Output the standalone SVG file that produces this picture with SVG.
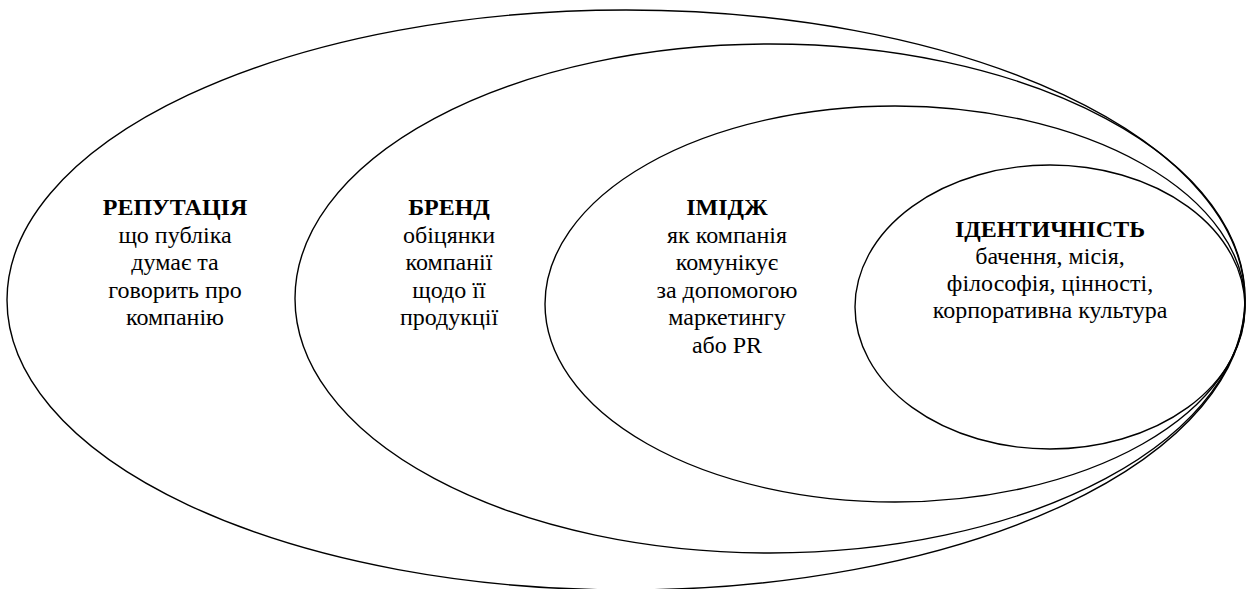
<svg xmlns="http://www.w3.org/2000/svg" width="1247" height="589" viewBox="0 0 1247 589">
<style>
.e{fill:none;stroke:#000;stroke-width:1.4}
text{font-family:"Liberation Serif","Times New Roman","DejaVu Serif",serif;font-size:24px;fill:#000;text-anchor:middle}
.t{font-weight:bold}
</style>
<rect width="1247" height="589" fill="#fff"/>
<g id="reputation">
<ellipse class="e" cx="626" cy="300" rx="619" ry="290"/>
<text x="175"><tspan class="t" x="175" y="215">РЕПУТАЦІЯ</tspan><tspan x="175" y="242.5">що публіка</tspan><tspan x="175" y="270">думає та</tspan><tspan x="175" y="297.5">говорить про</tspan><tspan x="175" y="325">компанію</tspan></text>
</g>
<g id="brand">
<ellipse class="e" cx="770" cy="298.5" rx="475" ry="254.5"/>
<text x="449"><tspan class="t" x="449" y="215">БРЕНД</tspan><tspan x="449" y="242.5">обіцянки</tspan><tspan x="449" y="270">компанії</tspan><tspan x="449" y="297.5">щодо її</tspan><tspan x="449" y="325">продукції</tspan></text>
</g>
<g id="image">
<ellipse class="e" cx="895" cy="304" rx="350" ry="198"/>
<text x="727"><tspan class="t" x="727" y="215">ІМІДЖ</tspan><tspan x="727" y="242.5">як компанія</tspan><tspan x="727" y="270">комунікує</tspan><tspan x="727" y="297.5">за допомогою</tspan><tspan x="727" y="325">маркетингу</tspan><tspan x="727" y="352.5">або PR</tspan></text>
</g>
<g id="identity">
<ellipse class="e" cx="1050" cy="307" rx="195" ry="142"/>
<text x="1050"><tspan class="t" x="1050" y="237">ІДЕНТИЧНІСТЬ</tspan><tspan x="1050" y="264">бачення, місія,</tspan><tspan x="1050" y="291">філософія, цінності,</tspan><tspan x="1050" y="318">корпоративна культура</tspan></text>
</g>
<g id="connectors"></g>
</svg>
